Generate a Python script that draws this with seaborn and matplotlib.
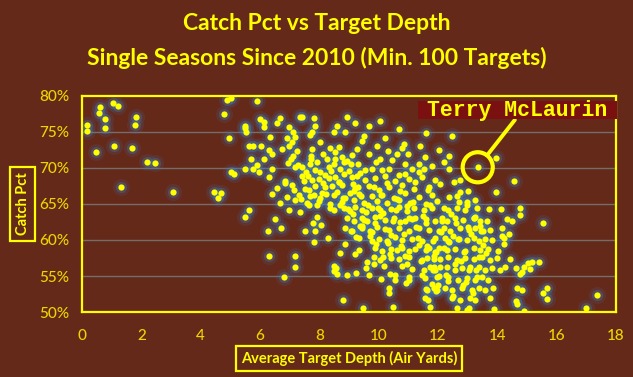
import matplotlib
matplotlib.use("Agg")
import matplotlib.pyplot as plt
from matplotlib.patches import Rectangle
import seaborn as sns
import pandas as pd

# ---------------- data ----------------
adot = [
    # sparse left / outliers
    0.17, 0.17, 0.62, 0.58, 0.76, 0.76, 1.03, 1.22, 0.48, 1.09, 1.69, 1.82, 1.78, 2.19, 2.46, 1.31, 3.06,
    4.44, 4.70, 4.60, 4.94, 4.80, 4.89, 5.03, 5.90, 5.48, 5.50, 5.54, 5.99, 5.62, 5.75, 6.03, 5.71, 5.90,
    5.96, 5.76, 5.48, 5.03, 5.11, 5.62, 5.48,
    # lower-left sparse
    6.49, 6.27, 6.72, 6.31, 7.19, 7.17, 6.82, 8.79, 9.47, 6.99, 7.34, 7.64, 7.83, 8.29, 7.53, 7.86, 7.92,
    7.79, 8.07, 8.48, 8.56, 8.60, 8.48, 8.93, 9.25, 9.66, 10.09, 10.39, 8.71, 9.21, 8.88, 9.57, 9.83,
    10.17, 10.56, 10.92, 11.03, 10.34, 10.36, 10.48, 11.60, 11.55, 11.74, 12.00, 11.80, 12.02,
    # right sparse
    15.53, 17.36, 16.99, 15.54, 15.67, 15.67, 14.66, 14.83, 14.63, 14.67, 14.89, 13.88, 15.39, 15.17,
    15.05, 15.11, 14.89, 14.83, 14.77, 14.63, 14.75, 14.75, 14.13, 13.71, 14.32, 14.49, 14.16, 14.16,
    14.38, 14.21, 13.26, 13.65, 13.76, 13.43,
    # upper right
    12.47, 12.36, 12.36, 13.96, 14.57, 13.96, 12.55, 12.75, 13.01, 12.75, 12.64, 12.36, 13.26, 12.98, 12.70,
    # upper middle
    7.36, 7.42, 8.93, 10.05, 9.66, 11.60, 10.86, 9.94, 8.59, 8.48, 8.88, 7.81, 7.86, 7.75, 7.69, 8.03,
    6.68, 6.57, 6.12, 6.12, 6.97, 7.13, 7.19, 6.91, 7.08, 6.35, 9.49, 9.44, 8.65, 8.54, 8.76, 8.82,
    8.54, 8.48, 9.27, 9.66, 8.26, 7.75, 7.73, 7.10, 6.97, 6.74, 6.29, 6.40, 6.12, 10.05, 10.45, 10.62,
    10.90, 11.35, 11.57, 12.02, 9.32, 9.55, 9.77, 10.11, 10.34, 10.67, 10.90, 11.12, 11.35, 11.52,
    6.40, 7.19, 7.42, 7.69, 7.86, 8.03, 8.20,
    9.10, 9.90, 10.30, 11.00, 11.80, 12.20, 9.00, 8.70, 10.80, 10.20, 10.70, 9.20, 11.40,
    # middle band 65-69
    6.29, 6.86, 7.42, 7.76, 8.32, 8.65, 9.10, 9.55, 9.89, 10.23, 10.56, 11.01, 11.46, 11.91,
    6.58, 7.08, 7.53, 7.87, 8.20, 8.76, 9.22, 9.67, 10.00, 10.34, 10.79, 11.18, 11.69, 12.08,
    6.40, 6.91, 7.31, 7.70, 8.09, 8.49, 8.88, 9.33, 9.78, 10.11, 10.51, 10.90, 11.35, 11.80,
    6.69, 7.19, 7.59, 7.98, 8.37, 8.76, 9.16, 9.50, 9.95, 10.28, 10.68, 11.07, 11.58, 11.97,
    # dense centre 56-65
    8.37, 8.49, 8.82, 9.05, 9.22, 9.44, 9.78, 10.06, 10.40, 10.68, 10.96, 11.18, 11.52, 11.80,
    8.94, 9.16, 9.44, 9.61, 9.89, 10.23, 10.51, 10.90, 11.24, 11.58, 11.91,
    8.88, 9.10, 9.44, 9.72, 9.95, 10.34, 10.68, 11.01, 11.35, 11.69, 12.02,
    9.33, 9.78, 10.00, 10.28, 10.56, 10.79, 11.13, 11.46, 11.91,
    9.89, 10.11, 10.40, 10.62, 10.79, 11.01, 11.24, 11.58, 11.69, 11.91,
    9.83, 10.06, 10.40, 10.68, 11.01, 11.46, 11.63, 11.86,
    10.79, 11.13, 11.86, 11.91, 12.08,
    10.56, 11.01, 11.46, 11.97, 11.63, 11.86, 11.97, 11.65,
    # dense right 50-65
    12.19, 12.35, 12.64, 12.92, 13.31,
    12.13, 12.30, 12.58, 12.86, 13.20, 13.42,
    12.19, 12.41, 12.75, 13.03, 13.25, 13.53,
    12.24, 12.35, 12.69, 12.97, 13.20, 13.37, 13.59, 13.82, 14.21,
    12.19, 12.30, 12.58, 12.92, 13.20, 13.42, 13.70, 14.04,
    12.35, 12.64, 12.92, 13.20, 13.48, 13.76, 13.98, 14.43,
    12.30, 12.58, 12.80, 13.03, 13.37, 13.59, 13.82, 14.10, 14.26,
    12.35, 12.69, 12.97, 13.25, 13.48, 13.70,
    12.24, 12.47, 12.80, 13.14, 13.37, 13.59, 13.87,
    12.47, 12.75, 13.09, 13.25, 13.76,
    12.64, 12.97, 13.03,
    # extra fill, zone 7-9.5 / 64-72
    7.05, 7.28, 7.61, 7.93, 8.14, 8.41, 8.67, 8.95, 9.18, 9.36, 7.15, 7.47, 7.72, 8.02, 8.31, 8.58,
    8.84, 9.07, 9.29, 6.85, 7.38, 7.66, 7.99, 8.23, 8.52, 8.79, 9.12, 9.41, 6.95, 7.55, 7.82, 8.11,
    8.44, 8.71, 9.03, 9.26, 7.24, 7.91, 8.36, 8.98,
    # extra fill, zone 9-12 / 56-68
    9.12, 9.38, 9.64, 9.87, 10.14, 10.42, 10.71, 10.97, 11.26, 11.49, 9.25, 9.51, 9.79, 10.05, 10.33,
    10.59, 10.84, 11.13, 11.37, 11.72, 9.43, 9.70, 9.98, 10.21, 10.48, 10.76, 11.04, 11.31, 11.58,
    11.84, 9.06, 9.57, 10.09, 10.62, 11.17, 11.66, 9.33, 9.92, 10.37, 10.88, 11.42, 11.95, 9.83,
    10.27, 10.73, 11.21, 9.61, 10.15, 10.95, 11.52,
    # extra fill, zone 11.5-13.6 / 52-65
    11.62, 11.88, 12.11, 12.37, 12.62, 12.88, 13.12, 13.38, 11.74, 12.02, 12.26, 12.51, 12.77, 13.02,
    13.28, 13.51, 11.55, 11.82, 12.08, 12.33, 12.58, 12.84, 13.09, 13.33, 12.14, 12.45, 12.71, 12.99,
    13.21, 13.46, 11.95, 12.52, 12.93, 13.17, 13.62,
]
catch_pct = [
    76.0, 75.2, 78.5, 77.7, 76.8, 75.6, 79.0, 78.6, 72.2, 73.1, 72.8, 77.1, 76.0, 70.9, 70.7, 67.3, 66.7,
    66.7, 66.5, 65.9, 74.1, 77.5, 79.4, 79.7, 79.3, 75.9, 75.6, 75.0, 76.8, 73.1, 73.1, 73.1, 71.3, 70.4,
    69.5, 69.9, 69.9, 69.5, 69.2, 64.1, 63.2,
    62.9, 61.3, 61.6, 57.8, 57.8, 56.3, 54.8, 51.6, 50.5, 64.1, 63.9, 64.8, 59.7, 60.3, 61.3, 61.3, 63.2,
    62.4, 62.1, 56.4, 56.1, 55.3, 55.7, 55.2, 55.4, 55.2, 54.6, 55.3, 58.2, 58.0, 59.5, 56.1, 56.7,
    56.4, 54.4, 54.0, 54.4, 53.4, 52.6, 50.7, 53.2, 52.0, 50.7, 53.7, 53.9, 55.0,
    62.4, 52.4, 50.5, 52.6, 53.3, 51.8, 53.3, 53.1, 51.5, 51.1, 50.1, 50.4, 57.0, 57.0,
    56.8, 56.0, 56.2, 55.5, 55.3, 56.1, 64.4, 63.5, 64.3, 64.3, 62.9, 62.6, 61.7, 60.6,
    60.8, 59.5, 63.2, 62.6, 61.4, 62.0,
    74.4, 71.7, 69.9, 71.4, 68.2, 66.6, 68.1, 68.4, 66.8, 66.6, 66.1, 66.0, 65.6, 65.3, 65.3,
    77.1, 77.1, 77.1, 76.5, 75.8, 74.8, 73.3, 73.1, 75.9, 75.0, 75.0, 76.9, 75.9, 75.0, 74.6, 73.6,
    76.9, 76.3, 76.4, 75.7, 75.7, 75.0, 74.3, 74.1, 73.6, 74.3, 74.5, 73.8, 72.9, 72.2, 71.5, 70.8,
    71.3, 70.6, 72.7, 72.0, 71.3, 72.7, 71.3, 71.7, 73.1, 72.6, 72.5, 72.0, 71.3, 71.3, 71.1, 71.9,
    70.6, 70.6, 71.5, 72.5, 70.6, 69.7, 69.9, 69.7, 69.9, 69.0, 69.2, 69.9, 69.4, 69.9,
    69.9, 70.1, 70.1, 70.6, 69.7, 69.4, 69.0,
    71.8, 70.9, 72.3, 71.9, 70.3, 70.9, 69.6, 69.8, 72.8, 74.2, 75.4, 76.3, 73.1,
    68.7, 68.2, 68.9, 68.4, 68.6, 68.1, 68.8, 68.3, 68.6, 68.9, 68.2, 68.5, 68.8, 68.3,
    67.2, 67.6, 67.1, 67.5, 67.3, 67.7, 67.2, 67.5, 67.0, 67.4, 67.6, 67.1, 67.3, 67.8,
    66.4, 66.0, 66.3, 66.1, 66.5, 66.2, 65.9, 66.4, 66.1, 66.3, 65.9, 66.5, 66.0, 66.2,
    65.2, 65.5, 65.1, 65.4, 65.0, 65.3, 65.5, 65.2, 65.4, 65.1, 65.5, 65.2, 65.0, 65.4,
    64.5, 64.1, 64.4, 64.0, 64.6, 64.2, 64.5, 64.1, 64.3, 64.6, 64.0, 64.4, 64.2, 64.5,
    63.1, 62.7, 63.0, 62.6, 63.2, 62.8, 63.0, 62.7, 63.1, 62.9, 62.6,
    61.7, 61.3, 61.6, 61.2, 61.8, 61.4, 61.6, 61.3, 61.7, 61.4, 61.2,
    60.3, 59.9, 60.2, 59.8, 60.4, 60.0, 60.2, 59.9, 60.3,
    58.9, 58.5, 58.8, 58.6, 58.9, 58.5, 58.8, 58.6, 58.9, 58.4,
    57.6, 57.2, 57.5, 57.3, 57.6, 57.2, 57.5, 57.3,
    56.4, 56.0, 56.3, 55.9, 56.2,
    55.1, 54.8, 55.2, 54.9, 53.1, 53.4, 53.0, 51.6,
    64.5, 64.1, 64.4, 64.2, 64.5,
    63.1, 62.7, 63.0, 62.8, 63.1, 62.7,
    61.7, 61.3, 61.6, 61.4, 61.7, 61.3,
    60.3, 59.9, 60.2, 60.0, 60.3, 59.9, 60.2, 60.0, 60.3,
    58.9, 58.6, 58.8, 58.5, 58.9, 58.6, 58.8, 58.5,
    57.6, 57.2, 57.5, 57.3, 57.6, 57.2, 57.5, 57.3,
    56.2, 55.8, 56.1, 55.9, 56.2, 55.8, 56.1, 55.9, 56.2,
    54.8, 54.4, 54.7, 54.5, 54.8, 54.4,
    53.4, 53.0, 53.3, 53.1, 53.4, 53.0, 53.3,
    51.9, 51.6, 51.9, 51.7, 51.9,
    50.5, 50.3, 50.6,
    71.2, 70.4, 68.9, 70.8, 67.9, 69.6, 68.1, 71.0, 66.8, 69.3, 66.9, 68.2, 71.6, 65.8, 70.2, 66.7,
    69.1, 70.5, 67.4, 67.9, 65.7, 67.0, 68.5, 66.4, 68.7, 65.9, 67.8, 66.1, 70.7, 69.4, 66.3, 71.9,
    67.5, 64.8, 66.5, 68.9, 72.4, 64.9, 72.8, 64.3,
    63.6, 61.9, 64.9, 62.3, 63.8, 60.7, 62.5, 64.7, 61.8, 63.4, 60.4, 62.8, 61.1, 63.3, 59.6,
    64.1, 60.9, 62.9, 59.3, 64.9, 62.0, 60.6, 64.4, 61.5, 62.7, 59.1, 63.0, 60.3, 62.4,
    59.9, 61.2, 63.9, 66.2, 65.7, 65.3, 66.9, 58.6, 59.4, 58.1, 57.8, 57.1, 58.3, 67.4,
    67.9, 66.8, 68.1, 56.9, 57.7, 56.6, 55.8,
    59.2, 57.8, 61.1, 59.7, 62.4, 58.3, 60.9, 57.6, 56.3, 58.9, 55.2, 60.6, 57.1, 61.8,
    55.9, 59.3, 54.7, 55.9, 57.4, 54.3, 56.7, 53.8, 56.2, 54.9, 62.6, 63.6, 60.1, 64.8,
    63.1, 61.2, 52.9, 52.2, 54.1, 52.6, 58.2,
]
highlight_name = "Terry McLaurin"
highlight_adot = 13.34
highlight_pct = 70.1

x_ticks = [0, 2, 4, 6, 8, 10, 12, 14, 16, 18]
y_ticks = [50, 55, 60, 65, 70, 75, 80]
title_text = "Catch Pct vs Target Depth\nSingle Seasons Since 2010 (Min. 100 Targets)"
x_label = "Average Target Depth (Air Yards)"
y_label = "Catch Pct"

df = pd.DataFrame({"adot": adot + [highlight_adot], "pct": catch_pct + [highlight_pct]})

# ---------------- style ----------------
BG = "#65291a"
YEL = "#FFFF00"
TICK = "#EDD600"
sns.set_theme(style="white")
plt.rcParams["font.family"] = ["Lato", "DejaVu Sans"]

fig = plt.figure(figsize=(6.33, 3.77), dpi=100, facecolor=BG)
ax = fig.add_axes([0.1295, 0.1724, 0.8436, 0.573])
ax.set_facecolor(BG)

# glow layers
sns.scatterplot(data=df, x="adot", y="pct", ax=ax, s=150, color="#2f7fd0",
                alpha=0.12, linewidth=0, legend=False, zorder=2)
sns.scatterplot(data=df, x="adot", y="pct", ax=ax, s=65, color="#3f8ad0",
                alpha=0.28, linewidth=0, legend=False, zorder=2)
sns.scatterplot(data=df, x="adot", y="pct", ax=ax, s=20, color=YEL,
                linewidth=0, legend=False, zorder=3)

ax.set_xlim(0, 18)
ax.set_ylim(50, 80)
ax.set_xticks(x_ticks)
ax.set_yticks(y_ticks)
ax.set_yticklabels([f"{v}%" for v in y_ticks])
for v in y_ticks[1:-1]:
    ax.axhline(v, color="#746e6a", lw=1.0, zorder=1)

for s in ax.spines.values():
    s.set_color(YEL)
    s.set_linewidth(1.6)
    s.set_zorder(5)
ax.tick_params(axis="both", colors=YEL, labelcolor=TICK, length=5, width=1.3,
               direction="out", labelsize=11, pad=4)
ax.tick_params(axis="x", pad=7)
for lab in ax.get_xticklabels() + ax.get_yticklabels():
    lab.set_fontweight("medium")

ax.set_xlabel(x_label, color=YEL, fontsize=10.5, fontweight="bold", labelpad=6,
              bbox=dict(boxstyle="square,pad=0.35", fc=BG, ec=YEL, lw=1.6))
ax.set_ylabel(y_label, color=YEL, fontsize=10.5, fontweight="bold", labelpad=7,
              bbox=dict(boxstyle="square,pad=0.4", fc=BG, ec=YEL, lw=1.6))

fig.suptitle(title_text, color=YEL, fontsize=16.5, fontweight="bold", y=0.965,
             linespacing=1.7)

# highlight
ax.scatter([highlight_adot], [highlight_pct], s=470, facecolor="none",
           edgecolor=YEL, linewidth=3.0, zorder=6, clip_on=False)
ax.annotate("", xy=(highlight_adot, highlight_pct), xytext=(14.59, 76.67),
            arrowprops=dict(arrowstyle="-", color=YEL, lw=2.8, shrinkA=0, shrinkB=11),
            zorder=6)
ax.add_patch(Rectangle((0.629, 0.893), 0.373, 0.085, transform=ax.transAxes,
                       fc="#7a1010", ec="none", zorder=6, clip_on=False))
ax.text(0.8155, 0.935, highlight_name, color=YEL, fontsize=15.5, fontweight="bold",
        family="Liberation Mono", ha="center", va="center", zorder=7,
        transform=ax.transAxes)

fig.savefig("out.png", dpi=100, facecolor=BG)
